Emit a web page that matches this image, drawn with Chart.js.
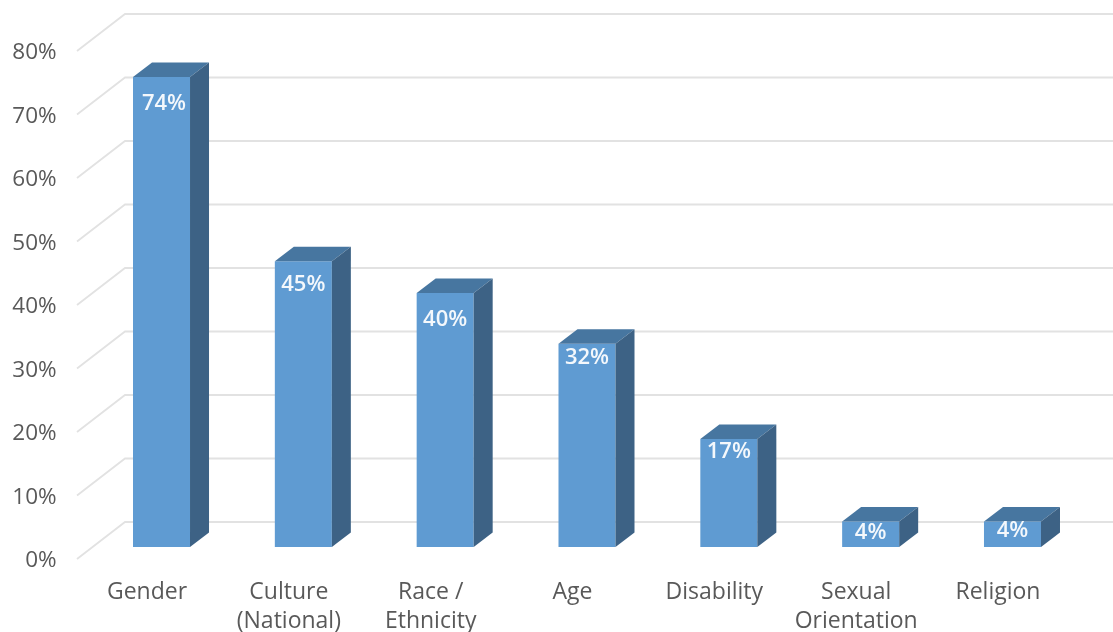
<!DOCTYPE html>
<html>
<head>
<meta charset="utf-8">
<title>Chart</title>
<script src="https://cdn.jsdelivr.net/npm/chart.js@4"></script>
<style>
  html, body { margin: 0; padding: 0; background: #fff; }
  canvas { display: block; }
</style>
</head>
<body>
<canvas id="barChart" width="1113" height="632"></canvas>
<script>
const categories = ["Gender", ["Culture", "(National)"], ["Race /", "Ethnicity"], "Age", "Disability", ["Sexual", "Orientation"], "Religion"];
const percentages = [74, 45, 40, 32, 17, 4, 4];
const yTicks = [0, 10, 20, 30, 40, 50, 60, 70, 80];

// value labels sit at slightly different depths inside each bar
const labelDrop = [27, 23, 27, 14, 13, 11, 9];

const fontName = "'Open Sans', 'Noto Sans', sans-serif";
const depthX = 19, depthY = 14.5;     // bar extrusion
const wallX = 48, wallY = 37;         // side wall of the 3d box
const backX = 125, backDrop = 25;     // back wall, relative to the bar plane

const wallPlugin = {
  id: "wall",
  beforeDatasetsDraw(chart) {
    const ctx = chart.ctx;
    const y = chart.scales.y;
    ctx.save();
    ctx.strokeStyle = "#e2e2e2";
    ctx.lineWidth = 1.8;
    yTicks.forEach(v => {
      const py = y.getPixelForValue(v) - backDrop;
      ctx.beginPath();
      ctx.moveTo(backX - wallX, py + wallY);
      ctx.lineTo(backX, py);
      ctx.lineTo(chart.width, py);
      ctx.stroke();
    });
    ctx.restore();
  },
};

const faces = (ctx, pts, color) => {
  ctx.fillStyle = color;
  ctx.beginPath();
  pts.forEach((p, i) => (i ? ctx.lineTo(p[0], p[1]) : ctx.moveTo(p[0], p[1])));
  ctx.closePath();
  ctx.fill();
};

const depthPlugin = {
  id: "depth",
  afterDatasetsDraw(chart) {
    const ctx = chart.ctx;
    ctx.save();
    chart.getDatasetMeta(0).data.forEach((bar, i) => {
      const l = bar.x - bar.width / 2;
      const r = bar.x + bar.width / 2;
      faces(ctx, [[l, bar.y], [l + depthX, bar.y - depthY], [r + depthX, bar.y - depthY], [r, bar.y]], "#4776a0");
      faces(ctx, [[r, bar.y], [r + depthX, bar.y - depthY], [r + depthX, bar.base - depthY], [r, bar.base]], "#3d6285");

      ctx.fillStyle = "#f4f8fc";
      ctx.font = "600 22px " + fontName;
      ctx.textAlign = "center";
      ctx.textBaseline = "middle";
      ctx.fillText(percentages[i] + "%", bar.x + (i === 0 ? 2.5 : 0), bar.y + labelDrop[i]);
    });
    ctx.restore();
  },
};

new Chart(document.getElementById("barChart").getContext("2d"), {
  type: "bar",
  data: {
    labels: categories,
    datasets: [{
      data: percentages,
      backgroundColor: "#5f9bd2",
      borderWidth: 0,
      barPercentage: 0.402,
      categoryPercentage: 1,
    }],
  },
  options: {
    responsive: false,
    animation: false,
    layout: { autoPadding: false, padding: { top: 39, right: 29.6, bottom: 0, left: 0 } },
    plugins: { legend: { display: false }, tooltip: { enabled: false } },
    scales: {
      x: {
        grid: { display: false, drawTicks: false },
        border: { display: false },
        afterFit: scale => { scale.height = 85; },
        ticks: {
          autoSkip: false,
          maxRotation: 0,
          padding: 31,
          labelOffset: -14.5,
          color: "#595959",
          font: { family: fontName, size: 23, lineHeight: 1.26 },
        },
      },
      y: {
        min: 0,
        max: 80,
        grid: { display: false, drawTicks: false },
        border: { display: false },
        afterFit: scale => {
          scale.width = 90.6;
          // tick padding would otherwise push the plot area down
          scale.paddingTop = 0;
          scale.paddingBottom = 0;
        },
        afterBuildTicks: scale => { scale.ticks = yTicks.map(value => ({ value })); },
        ticks: {
          padding: 34,
          labelOffset: 14,
          color: "#595959",
          font: { family: fontName, size: 22.5 },
          callback: value => value + "%",
        },
      },
    },
  },
  plugins: [wallPlugin, depthPlugin],
});
</script>
</body>
</html>
